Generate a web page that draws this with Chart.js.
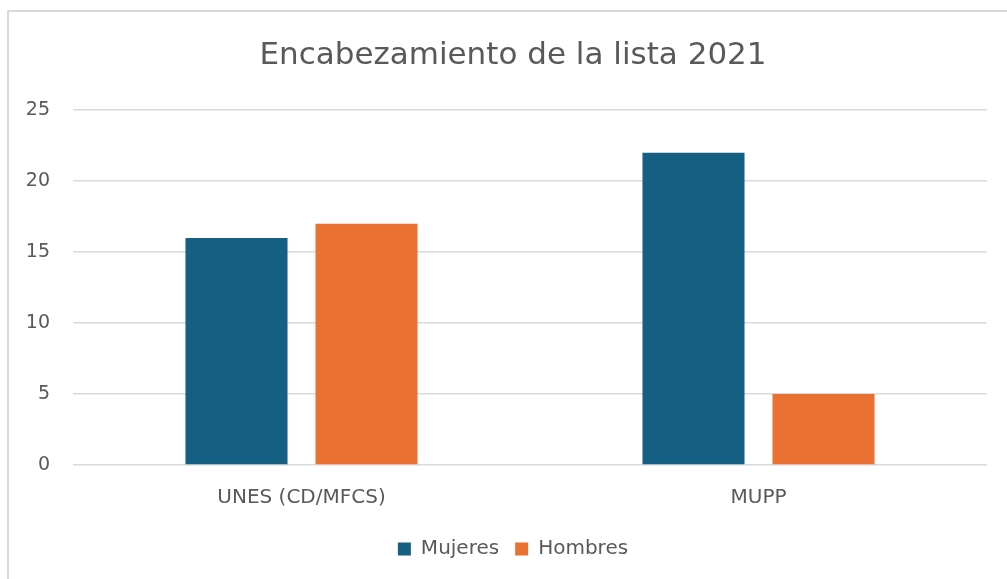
<!DOCTYPE html>
<html lang="es">
<head>
    <meta charset="UTF-8">
    <title>Encabezamiento de la lista 2021</title>
    <style>
        html, body {
            margin: 0;
            padding: 0;
            background: #fff;
            overflow: hidden;
            width: 1007px;
            height: 579px;
        }
        .frame {
            position: absolute;
            left: 7px;
            top: 10px;
            width: 1030px;
            height: 600px;
            border: 2px solid #d9d9d9;
        }
        .chart-box {
            position: absolute;
            left: 9px;
            top: 12px;
            width: 1008px;
            height: 567px;
        }
    </style>
</head>
<body>
    <div class="frame"></div>
    <div class="chart-box">
        <canvas id="listChart"></canvas>
    </div>

    <script src="https://cdn.jsdelivr.net/npm/chart.js"></script>
    <script>
        // data
        const categories = ['UNES (CD/MFCS)', 'MUPP'];
        const mujeres = [16, 22];
        const hombres = [17, 5];
        const yTicks = [0, 5, 10, 15, 20, 25];

        const textColor = '#595959';
        const fontFamily = '"DejaVu Sans", "Liberation Sans", Arial, sans-serif';

        const ctx = document.getElementById('listChart').getContext('2d');
        new Chart(ctx, {
            type: 'bar',
            data: {
                labels: categories,
                datasets: [
                    {
                        label: 'Mujeres',
                        data: mujeres,
                        backgroundColor: '#156082'
                    },
                    {
                        label: 'Hombres',
                        data: hombres,
                        backgroundColor: '#e97132'
                    }
                ]
            },
            options: {
                responsive: true,
                maintainAspectRatio: false,
                animation: false,
                layout: {
                    // equal side padding keeps title and legend centred
                    padding: { left: 30, right: 30, top: 0, bottom: 10 }
                },
                datasets: {
                    bar: {
                        categoryPercentage: 0.569,
                        barPercentage: 0.785
                    }
                },
                plugins: {
                    title: {
                        display: true,
                        text: 'Encabezamiento de la lista 2021',
                        color: textColor,
                        font: { family: fontFamily, size: 31, weight: 'normal' },
                        padding: { top: 25, bottom: 36 }
                    },
                    legend: {
                        position: 'bottom',
                        labels: {
                            color: textColor,
                            font: { family: fontFamily, size: 20 },
                            boxWidth: 13,
                            boxHeight: 13,
                            padding: 16
                        }
                    },
                    tooltip: { enabled: false }
                },
                scales: {
                    x: {
                        grid: { display: false },
                        border: { display: false },
                        ticks: {
                            color: textColor,
                            font: { family: fontFamily, size: 20 },
                            padding: 13
                        }
                    },
                    y: {
                        min: 0,
                        max: 25,
                        afterFit: function (scale) {
                            scale.width = 34;
                            // labels reach into the padding, so don't clip them to the scale box
                            scale._computeLabelArea = function () { return undefined; };
                        },
                        afterBuildTicks: function (scale) {
                            scale.ticks = yTicks.map(v => ({ value: v }));
                        },
                        grid: {
                            color: '#d9d9d9',
                            lineWidth: 1.5,
                            drawTicks: false
                        },
                        border: { display: false },
                        ticks: {
                            color: textColor,
                            font: { family: fontFamily, size: 19 },
                            padding: 23
                        }
                    }
                }
            }
        });
    </script>
</body>
</html>
